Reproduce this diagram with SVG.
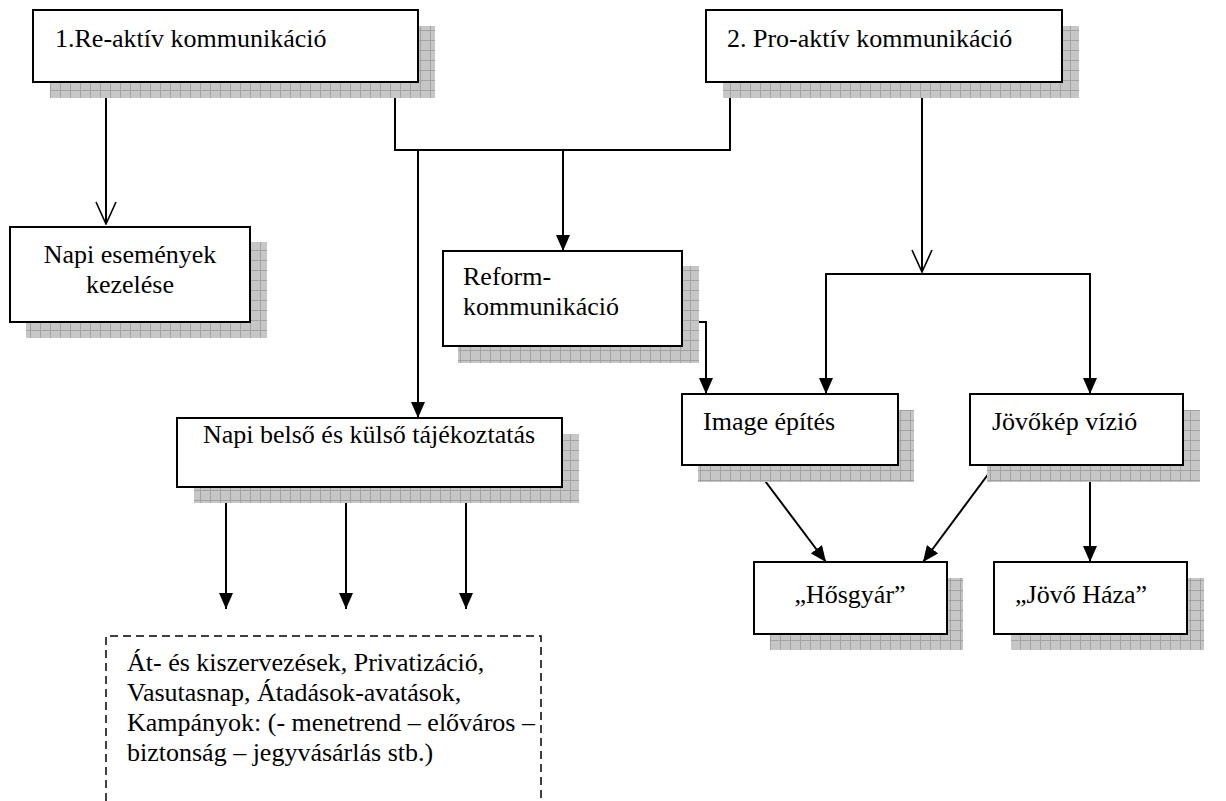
<svg xmlns="http://www.w3.org/2000/svg" width="1226" height="801" viewBox="0 0 1226 801">
<style>
  .box { fill: #ffffff; stroke: #000000; stroke-width: 2; }
  .shadow { fill: url(#grid); }
  .t { font-family: "Liberation Serif", "Times New Roman", serif; font-size: 26px; fill: #000000; }
  .c { text-anchor: middle; }
  .ln { fill: none; stroke: #000000; stroke-width: 2; }
  .fa { marker-end: url(#filled); }
  .oa { marker-end: url(#open); }
  .dash { fill: none; stroke: #000000; stroke-width: 1.5; stroke-dasharray: 8 5; }
</style>
<defs>
  <pattern id="grid" patternUnits="userSpaceOnUse" width="10" height="10">
    <rect width="10" height="10" fill="#c6c6c6"/>
    <path d="M0 0.5 H10 M0.5 0 V10" stroke="#a2a2a2" stroke-width="1"/>
  </pattern>
  <marker id="filled" viewBox="0 0 16 14" refX="16" refY="7" markerWidth="16" markerHeight="14" markerUnits="userSpaceOnUse" orient="auto">
    <path d="M0 0 L16 7 L0 14 Z" fill="#000000"/>
  </marker>
  <marker id="open" viewBox="0 0 24 22" refX="23" refY="11" markerWidth="24" markerHeight="22" markerUnits="userSpaceOnUse" orient="auto">
    <path d="M1 1 L23 11 L1 21" fill="none" stroke="#000000" stroke-width="1.6"/>
  </marker>
</defs>
<rect width="1226" height="801" fill="#ffffff"/>

<g id="connectors">
  <path class="ln oa" d="M106 82 V224"/>
  <path class="ln" d="M395 82 V150 H730 V82"/>
  <path class="ln fa" d="M418 150 V418"/>
  <path class="ln fa" d="M563 150 V251"/>
  <path class="ln oa" d="M922 82 V272"/>
  <path class="ln" d="M826 394 V274 H1090 V394"/>
  <path class="ln fa" d="M826 274 V394"/>
  <path class="ln fa" d="M1090 274 V394"/>
  <path class="ln fa" d="M682 322 H706 V394"/>
  <path class="ln fa" d="M753 465 L826 562"/>
  <path class="ln fa" d="M995 465 L923 562"/>
  <path class="ln fa" d="M1090 465 V562"/>
  <path class="ln fa" d="M226 487 V609"/>
  <path class="ln fa" d="M346 487 V609"/>
  <path class="ln fa" d="M466 487 V609"/>
</g>

<g id="n-reaktiv">
  <rect class="shadow" x="50" y="26" width="385" height="72"/>
  <rect class="box" x="33" y="10" width="385" height="72"/>
  <text class="t" x="55" y="47">1.Re-aktív kommunikáció</text>
</g>

<g id="n-proaktiv">
  <rect class="shadow" x="723" y="26" width="356" height="72"/>
  <rect class="box" x="706" y="10" width="356" height="72"/>
  <text class="t" x="727" y="47">2. Pro-aktív kommunikáció</text>
</g>

<g id="n-napi-esemenyek">
  <rect class="shadow" x="26" y="242" width="241" height="96"/>
  <rect class="box" x="10" y="227" width="240" height="95"/>
  <text class="t c" x="130" y="263">Napi események</text>
  <text class="t c" x="130" y="293">kezelése</text>
</g>

<g id="n-reform">
  <rect class="shadow" x="458" y="266" width="241" height="97"/>
  <rect class="box" x="443" y="251" width="239" height="95"/>
  <text class="t" x="463" y="285">Reform-</text>
  <text class="t" x="463" y="315">kommunikáció</text>
</g>

<g id="n-napi-belso">
  <rect class="shadow" x="194" y="434" width="385" height="69"/>
  <rect class="box" x="177" y="418" width="385" height="69"/>
  <text class="t c" x="369" y="443">Napi belső és külső tájékoztatás</text>
</g>

<g id="n-image">
  <rect class="shadow" x="698" y="410" width="216" height="72"/>
  <rect class="box" x="682" y="394" width="216" height="71"/>
  <text class="t" x="703" y="430">Image építés</text>
</g>

<g id="n-jovokep">
  <rect class="shadow" x="987" y="410" width="213" height="72"/>
  <rect class="box" x="970" y="394" width="213" height="71"/>
  <text class="t" x="992" y="430">Jövőkép vízió</text>
</g>

<g id="n-hosgyar">
  <rect class="shadow" x="770" y="578" width="193" height="72"/>
  <rect class="box" x="754" y="562" width="193" height="72"/>
  <text class="t c" x="850" y="603">„Hősgyár”</text>
</g>

<g id="n-jovo-haza">
  <rect class="shadow" x="1011" y="578" width="193" height="72"/>
  <rect class="box" x="994" y="562" width="193" height="72"/>
  <text class="t" x="1015" y="603">„Jövő Háza”</text>
</g>

<g id="n-kampanyok">
  <path class="dash" d="M106 801 V636 H541 V801"/>
  <text class="t" x="127" y="671">Át- és kiszervezések, Privatizáció,</text>
  <text class="t" x="127" y="701">Vasutasnap, Átadások-avatások,</text>
  <text class="t" x="127" y="731">Kampányok: (- menetrend – előváros –</text>
  <text class="t" x="127" y="761">biztonság – jegyvásárlás stb.)</text>
</g>
</svg>
